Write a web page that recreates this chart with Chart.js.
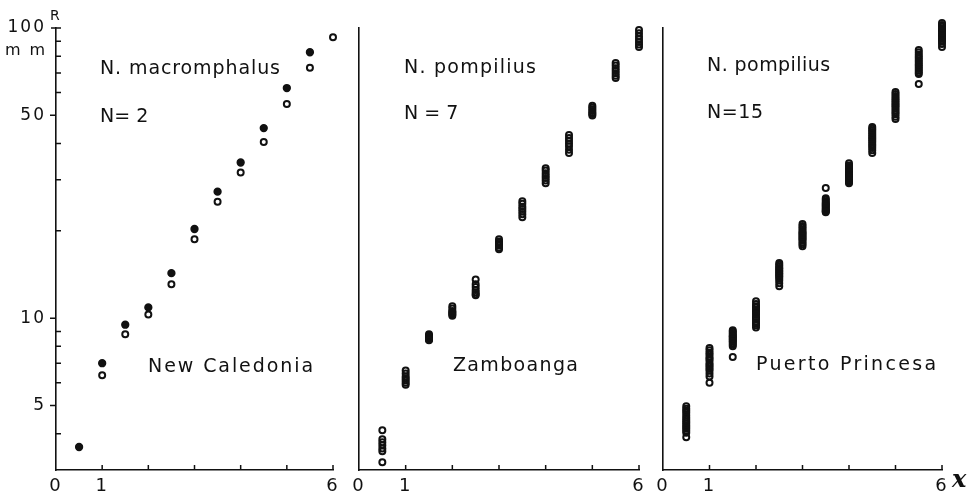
<!DOCTYPE html>
<html>
<head>
<meta charset="utf-8">
<script src="https://cdn.jsdelivr.net/npm/chart.js@4/dist/chart.umd.min.js"></script>
<style>
  html, body { margin: 0; padding: 0; background: #ffffff; }
  #wrap { position: relative; width: 976px; height: 500px; background: #ffffff; }
  #wrap canvas { position: absolute; left: 0; top: 0; }
</style>
</head>
<body>
<div id="wrap">
  <canvas id="panelMacro" width="976" height="500"></canvas>
  <canvas id="panelZamboanga" width="976" height="500"></canvas>
  <canvas id="panelPuerto" width="976" height="500"></canvas>
</div>
<script>
// Shell radius R (mm, log scale) against whorl number x, sampled every half whorl.
const whorlX = [0.5, 1, 1.5, 2, 2.5, 3, 3.5, 4, 4.5, 5, 5.5, 6];

// N. macromphalus, New Caledonia (two shells: one filled, one open)
const macroFilledX = [0.5, 1, 1.5, 2, 2.5, 3, 3.5, 4, 4.5, 5, 5.5];
const macroFilledR = [3.6, 7.0, 9.5, 10.9, 14.3, 20.3, 27.3, 34.4, 45.2, 62.1, 82.5];
const macroOpenX = [1, 1.5, 2, 2.5, 3, 3.5, 4, 4.5, 5, 5.5, 6];
const macroOpenR = [6.36, 8.8, 10.3, 13.1, 18.7, 25.2, 31.8, 40.5, 54.7, 73.0, 92.9];

// N. pompilius, Zamboanga (N = 7), one row per whorl in whorlX
const zamboangaR = [
  [4.11, 3.83, 3.74, 3.65, 3.56, 3.48, 3.19],
  [6.6, 6.45, 6.3, 6.2, 6.1, 6.0, 5.9],
  [8.8, 8.7, 8.65, 8.6, 8.5, 8.45, 8.4],
  [11.0, 10.8, 10.6, 10.5, 10.4, 10.3, 10.2],
  [13.6, 13.1, 12.8, 12.5, 12.3, 12.1, 12.0],
  [18.7, 18.4, 18.2, 18.0, 17.8, 17.5, 17.3],
  [25.3, 24.8, 24.2, 23.8, 23.3, 22.8, 22.3],
  [32.9, 32.3, 31.6, 31.0, 30.4, 29.8, 29.2],
  [42.8, 41.8, 40.9, 40.0, 39.1, 38.1, 37.1],
  [54.0, 53.2, 52.5, 51.8, 51.1, 50.5, 49.9],
  [75.7, 74.2, 72.7, 71.2, 69.8, 68.5, 67.2],
  [98.4, 96.0, 93.5, 91.5, 89.5, 87.8, 86.0]
];

// N. pompilius, Puerto Princesa (N = 15), one row per whorl in whorlX
const puertoR = [
  [4.97, 4.88, 4.80, 4.72, 4.63, 4.55, 4.48, 4.41, 4.35, 4.28, 4.22, 4.16, 4.10, 4.03, 3.89],
  [7.9, 7.75, 7.6, 7.5, 7.35, 7.25, 7.15, 7.0, 6.9, 6.8, 6.7, 6.6, 6.45, 6.3, 6.0],
  [9.1, 9.0, 8.9, 8.8, 8.7, 8.65, 8.6, 8.5, 8.45, 8.35, 8.3, 8.2, 8.1, 8.0, 7.35],
  [11.45, 11.2, 11.0, 10.9, 10.7, 10.6, 10.4, 10.3, 10.1, 10.0, 9.9, 9.7, 9.6, 9.45, 9.3],
  [15.5, 15.3, 15.1, 14.9, 14.8, 14.6, 14.5, 14.3, 14.2, 14.0, 13.9, 13.7, 13.5, 13.2, 12.9],
  [21.1, 20.8, 20.5, 20.2, 19.9, 19.7, 19.5, 19.3, 19.1, 18.9, 18.7, 18.5, 18.2, 18.0, 17.7],
  [28.1, 25.9, 25.6, 25.3, 25.0, 24.8, 24.6, 24.4, 24.2, 24.0, 23.8, 23.6, 23.4, 23.3, 23.2],
  [34.2, 33.6, 33.2, 32.8, 32.4, 32.0, 31.7, 31.4, 31.1, 30.8, 30.5, 30.2, 29.9, 29.5, 29.2],
  [45.6, 45.0, 44.4, 43.8, 43.2, 42.6, 42.0, 41.5, 41.0, 40.4, 39.8, 39.2, 38.6, 37.9, 37.1],
  [60.2, 59.2, 58.3, 57.4, 56.6, 55.8, 55.0, 54.3, 53.6, 52.8, 52.0, 51.2, 50.4, 49.5, 48.6],
  [84.0, 82.5, 81.0, 79.8, 78.6, 77.4, 76.3, 75.2, 74.2, 73.2, 72.2, 71.2, 70.3, 69.4, 64.1],
  [105.7, 104.0, 102.5, 101.0, 99.5, 98.2, 97.0, 95.8, 94.5, 93.3, 92.0, 90.8, 89.6, 88.0, 86.0]
];

// Axis ticks
const xLabelTicks = [0, 1, 6];
const xMarkTicks = [1, 2, 3, 4, 5, 6];
const yLabelTicks = [5, 10, 50, 100];
const yMinorTicks = [4, 6, 7, 8, 9, 20, 30, 40, 60, 70, 80, 90];
const yMajorTicks = [5, 10, 50];
const yCapTicks = [100];

const INK = '#111111';
const FONT = "'DejaVu Sans', 'Liberation Sans', sans-serif";

function pairs(xs, ys) {
  return xs.map((x, i) => ({ x: x, y: ys[i] }));
}
function columns(xs, rows) {
  const out = [];
  rows.forEach((row, i) => row.forEach(r => out.push({ x: xs[i], y: r })));
  return out;
}

function openSet(data) {
  return {
    data: data, showLine: false, clip: false,
    pointStyle: 'circle', pointRadius: 3, pointBorderWidth: 2,
    pointBackgroundColor: 'rgba(0,0,0,0)', pointBorderColor: INK
  };
}
function filledSet(data) {
  return {
    data: data, showLine: false, clip: false,
    pointStyle: 'circle', pointRadius: 3.4, pointBorderWidth: 1.5,
    pointBackgroundColor: INK, pointBorderColor: INK
  };
}

// Short tick marks: minor ones point into the plot, labelled ones point out.
function tickMarks(spec) {
  return {
    id: 'tickMarks',
    beforeDraw(chart) { chart.ctx.letterSpacing = '2px'; },
    afterDraw(chart) {
      const { ctx, chartArea: a, scales: { x, y } } = chart;
      ctx.save();
      ctx.letterSpacing = '0px';
      ctx.strokeStyle = INK;
      ctx.lineWidth = 1.5;
      ctx.beginPath();
      (spec.yIn || []).forEach(v => {
        const p = y.getPixelForValue(v);
        ctx.moveTo(a.left, p); ctx.lineTo(a.left + 5, p);
      });
      (spec.yOut || []).forEach(v => {
        const p = y.getPixelForValue(v);
        ctx.moveTo(a.left - 6, p); ctx.lineTo(a.left, p);
      });
      (spec.yBoth || []).forEach(v => {
        const p = y.getPixelForValue(v);
        ctx.moveTo(a.left - 5, p); ctx.lineTo(a.left + 5, p);
      });
      (spec.xIn || []).forEach(v => {
        const p = x.getPixelForValue(v);
        ctx.moveTo(p, a.bottom); ctx.lineTo(p, a.bottom - 5);
      });
      ctx.stroke();
      ctx.restore();
    }
  };
}

// Captions written inside the panels; a caption with a width is spread to it.
function captions(items) {
  return {
    id: 'captions',
    afterDraw(chart) {
      const ctx = chart.ctx;
      ctx.save();
      ctx.fillStyle = INK;
      ctx.textAlign = 'left';
      ctx.textBaseline = 'alphabetic';
      items.forEach(t => {
        ctx.font = t.font;
        ctx.letterSpacing = '0px';
        const n = Array.from(t.text).length;
        const natural = ctx.measureText(t.text).width;
        const ls = (t.width && n > 1) ? Math.max(0, (t.width - natural) / (n - 1)) : 0;
        ctx.letterSpacing = ls.toFixed(2) + 'px';
        ctx.fillText(t.text, t.x, t.y);
      });
      ctx.restore();
    }
  };
}

function panelOptions(cfg) {
  return {
    responsive: false,
    animation: false,
    events: [],
    layout: { padding: { left: cfg.padLeft, right: cfg.padRight, top: 28, bottom: 0 } },
    plugins: { legend: { display: false }, tooltip: { enabled: false } },
    scales: {
      x: {
        type: 'linear', min: 0, max: 6,
        grid: { display: false, drawTicks: false },
        border: { display: true, color: INK, width: 1.6 },
        ticks: {
          color: INK, font: { family: FONT, size: 18 }, padding: 6,
          maxRotation: 0, autoSkip: false, callback: v => String(v)
        },
        afterBuildTicks: s => { s.ticks = xLabelTicks.map(v => ({ value: v })); },
        afterFit: s => { s.height = 30; }
      },
      y: {
        type: 'logarithmic', min: 3, max: 100,
        grid: { display: false, drawTicks: false },
        border: { display: true, color: INK, width: 1.6 },
        ticks: {
          display: cfg.yLabels, color: INK, font: { family: FONT, size: 17 }, padding: 10,
          autoSkip: false, callback: v => String(v)
        },
        afterBuildTicks: s => { s.ticks = yLabelTicks.map(v => ({ value: v })); },
        afterFit: s => { s.width = cfg.yWidth; }
      }
    }
  };
}

const TXT = '19px ' + FONT;

new Chart(document.getElementById('panelMacro'), {
  type: 'scatter',
  data: {
    datasets: [
      filledSet(pairs(macroFilledX, macroFilledR)),
      openSet(pairs(macroOpenX, macroOpenR))
    ]
  },
  options: panelOptions({ padLeft: 0, padRight: 643, yWidth: 56, yLabels: true }),
  plugins: [
    tickMarks({ yIn: yMinorTicks, yOut: yMajorTicks, yBoth: yCapTicks, xIn: xMarkTicks }),
    captions([
      { text: 'R', font: '14px ' + FONT, x: 50, y: 20 },
      { text: 'mm', font: '16px ' + FONT, x: 5, y: 55, width: 40 },
      { text: 'N. macromphalus', font: TXT, x: 100, y: 74, width: 180 },
      { text: 'N= 2', font: TXT, x: 100, y: 121.5 },
      { text: 'New Caledonia', font: TXT, x: 148, y: 371.5, width: 165 }
    ])
  ]
});

new Chart(document.getElementById('panelZamboanga'), {
  type: 'scatter',
  data: { datasets: [openSet(columns(whorlX, zamboangaR))] },
  options: panelOptions({ padLeft: 359, padRight: 337, yWidth: 0, yLabels: false }),
  plugins: [
    tickMarks({ xIn: xMarkTicks }),
    captions([
      { text: 'N. pompilius', font: TXT, x: 404, y: 73, width: 132 },
      { text: 'N = 7', font: TXT, x: 404, y: 119 },
      { text: 'Zamboanga', font: TXT, x: 453, y: 370.5, width: 125 }
    ])
  ]
});

new Chart(document.getElementById('panelPuerto'), {
  type: 'scatter',
  data: { datasets: [openSet(columns(whorlX, puertoR))] },
  options: panelOptions({ padLeft: 663, padRight: 34, yWidth: 0, yLabels: false }),
  plugins: [
    tickMarks({ xIn: xMarkTicks }),
    captions([
      { text: 'N. pompilius', font: TXT, x: 707, y: 71, width: 123 },
      { text: 'N=15', font: TXT, x: 707, y: 118, width: 56 },
      { text: 'Puerto Princesa', font: TXT, x: 756, y: 370, width: 180 },
      { text: 'x', font: 'italic bold 24px "DejaVu Serif", serif', x: 952, y: 487 }
    ])
  ]
});
</script>
</body>
</html>
